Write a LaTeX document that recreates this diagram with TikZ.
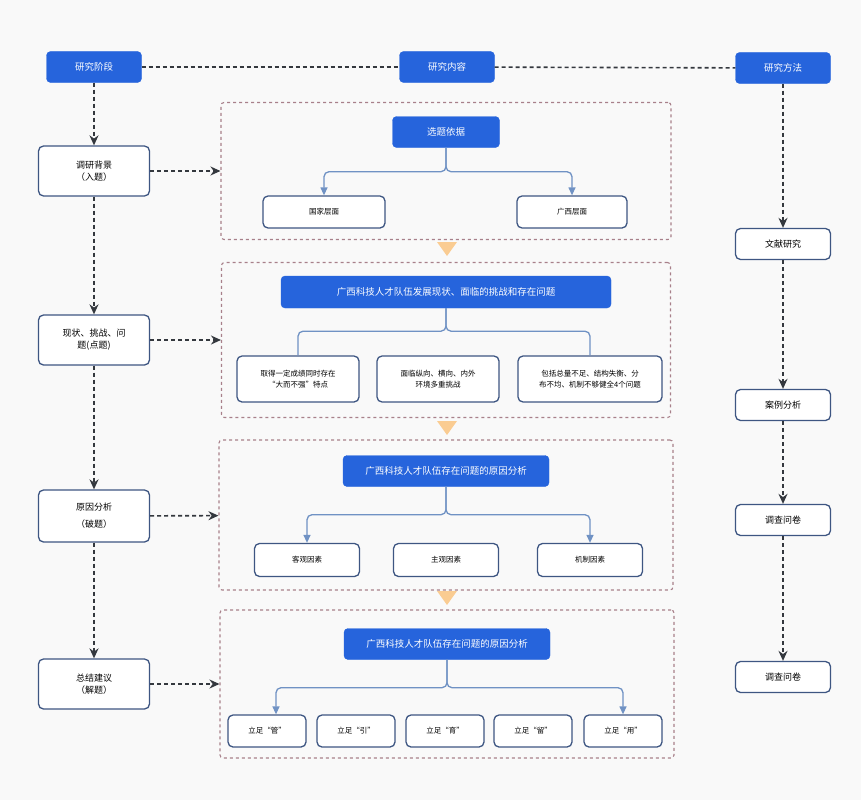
\documentclass[tikz,border=0pt]{standalone}
\usepackage{fontspec}
\setmainfont{Noto Sans CJK SC}
\usetikzlibrary{arrows.meta,positioning}
\definecolor{hdblue}{RGB}{38,100,220}
\definecolor{bdblue}{RGB}{62,86,130}
\definecolor{trblue}{RGB}{112,146,196}
\definecolor{dkgray}{RGB}{52,56,62}
\definecolor{secline}{RGB}{168,128,138}
\definecolor{tri}{RGB}{250,204,146}

\begin{document}
\begin{tikzpicture}[x=1pt,y=-1pt,font=\fontsize{9}{12}\selectfont,head/.style={fill=hdblue, draw=hdblue, text=white, rounded corners=4pt, minimum width=95, minimum height=31, font=\fontsize{9.5}{12}\selectfont},box/.style={draw=bdblue, fill=white, line width=1.3pt, rounded corners=5pt, align=center},small/.style={box, font=\fontsize{7.5}{11}\selectfont},sec/.style={draw=secline, dash pattern=on 3pt off 3pt, line width=1.1pt, rounded corners=3pt},link/.style={dkgray, line width=1.6pt, dash pattern=on 4pt off 3pt},flow/.style={link, -{Stealth[length=10pt,width=9pt]}},tree/.style={trblue, line width=1.3pt, rounded corners=5pt},treearrow/.style={tree, -{Triangle[length=8pt,width=7pt]}}]
\useasboundingbox (0,0) rectangle (861,800);
\fill[gray!5] (0,0) rectangle (861,800);
\node[head] (jd) at (94,67) {研究阶段};
\node[head] (nr) at (447,67) {研究内容};
\node[head] (ff) at (783,68) {研究方法};
\draw[link] (jd) -- (nr);\draw[link] (nr) -- (ff);
\node[box, minimum width=111, minimum height=50] (bj) at (94,171) {调研背景\\（入题）};
\node[box, minimum width=111, minimum height=50] (xz) at (94,340) {现状、挑战、问\\题(点题)};
\node[box, minimum width=111, minimum height=52] (yy) at (94,516) {原因分析\\[5pt]（破题）};
\node[box, minimum width=111, minimum height=50] (zj) at (94,684) {总结建议\\（解题）};
\draw[flow] (jd) -- (bj);\draw[flow] (bj) -- (xz);\draw[flow] (xz) -- (yy);\draw[flow] (yy) -- (zj);
\node[sec, minimum width=450, minimum height=137] (s1) at (446,171) {};
\node[sec, minimum width=449, minimum height=155] (s2) at (446,340) {};
\node[sec, minimum width=454, minimum height=150] (s3) at (446,515) {};
\node[sec, minimum width=454, minimum height=148] (s4) at (447,684) {};
\draw[flow] (bj) -- (s1);\draw[flow] (xz) -- (s2);\draw[flow] (yy) -- (s3);\draw[flow] (zj) -- (s4);
\fill[tri] (437,242) -- (457,242) -- (447,256) -- cycle;\fill[tri] (437,421) -- (457,421) -- (447,435) -- cycle;\fill[tri] (437,591) -- (457,591) -- (447,605) -- cycle;
\node[head, minimum width=107] (xt) at (446,132) {选题依据};
\node[small, minimum width=122, minimum height=32] (gj) at (324,212) {国家层面};
\node[small, minimum width=110, minimum height=32] (gx) at (572,212) {广西层面};
\draw[treearrow] (xt.south) -- ++(0,24) -| (gj.north);\draw[treearrow] (xt.south) -- ++(0,24) -| (gx.north);
\node[head, minimum width=330, minimum height=32] (fz) at (446,292) {广西科技人才队伍发展现状、面临的挑战和存在问题};
\node[small, minimum width=122, minimum height=46] (c1) at (298,379) {取得一定成绩同时存在\\“大而不强”特点};
\node[small, minimum width=122, minimum height=46] (c2) at (438,379) {面临纵向、横向、内外\\环境多重挑战};
\node[small, minimum width=144, minimum height=46] (c3) at (590,379) {包括总量不足、结构失衡、分\\布不均、机制不够健全4个问题};
\draw[tree] (fz.south) -- ++(0,23) -| (c1.north);\draw[tree] (fz.south) -- ++(0,23) -| (c3.north);
\node[head, minimum width=206] (yh) at (446,471) {广西科技人才队伍存在问题的原因分析};
\node[small, minimum width=105, minimum height=33] (k1) at (307,560) {客观因素};
\node[small, minimum width=105, minimum height=33] (k2) at (446,560) {主观因素};
\node[small, minimum width=105, minimum height=33] (k3) at (590,560) {机制因素};
\draw[treearrow] (yh.south) -- ++(0,28) -| (k1.north);\draw[treearrow] (yh.south) -- ++(0,28) -| (k3.north);
\node[head, minimum width=206] (jy) at (447,644) {广西科技人才队伍存在问题的原因分析};
\node[small, minimum width=78, minimum height=32] (l1) at (267,731) {立足“管”};
\node[small, minimum width=78, minimum height=32] (l2) at (356,731) {立足“引”};
\node[small, minimum width=78, minimum height=32] (l3) at (445,731) {立足“育”};
\node[small, minimum width=78, minimum height=32] (l4) at (533,731) {立足“留”};
\node[small, minimum width=78, minimum height=32] (l5) at (623,731) {立足“用”};
\draw[treearrow] (jy.south) -- ++(0,28) -| ([xshift=9pt]l1.north);\draw[treearrow] (jy.south) -- ++(0,28) -| (l5.north);
\node[box, minimum width=95, minimum height=31] (wx) at (783,244) {文献研究};
\node[box, minimum width=95, minimum height=31] (al) at (783,405) {案例分析};
\node[box, minimum width=95, minimum height=31] (dc) at (783,520) {调查问卷};
\node[box, minimum width=95, minimum height=31] (dw) at (783,677) {调查问卷};
\draw[flow] (ff) -- (wx);\draw[flow] (wx) -- (al);\draw[flow] (al) -- (dc);\draw[flow] (dc) -- (dw);
\end{tikzpicture}
\end{document}
